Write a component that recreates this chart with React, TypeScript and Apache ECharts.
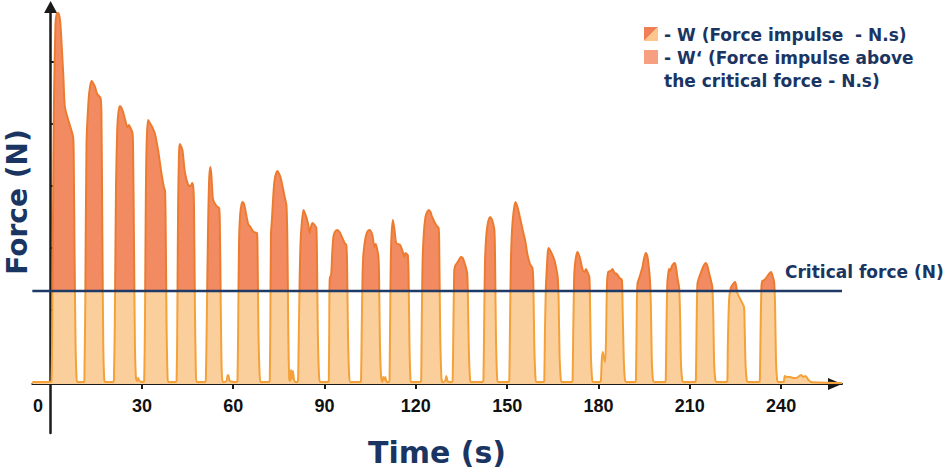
import React, { useEffect, useRef } from "react";
import * as echarts from "echarts";

// ---- data (time in s, force in arbitrary N units) ----
const timeLabels = [0, 30, 60, 90, 120, 150, 180, 210, 240];
const timeTickMarks = [30, 60, 90, 120, 150, 180, 210, 240];
const forceTickMarks = [12, 74, 136, 198, 260, 322];
const criticalForce = 93;
const timeRange = [-6, 260];
const forceRange = [-49, 377];

const forceCurve: [number, number][] = [
  [-6, 2], [0, 2],
  [0.3, 4], [0.5, 40], [0.8, 170], [1.1, 280], [1.6, 360], [2.0, 370], [2.5, 371], [3.1, 364], [3.6, 341], [4.2, 307], [4.7, 277], [6.1, 261], [7.4, 247], [7.6, 225], [7.9, 120], [8.2, 40], [8.5, 8], [8.8, 2],
  [11.0, 2], [11.1, 4], [11.4, 80], [11.8, 240], [12.5, 285], [13.0, 298], [13.5, 303], [14.6, 297], [15.3, 290], [16.4, 286], [16.7, 270], [17.0, 150], [17.3, 40], [17.6, 6], [17.9, 2],
  [20.6, 2], [20.8, 4], [21.1, 60], [21.5, 200], [21.9, 255], [22.3, 272], [22.8, 278], [23.3, 276], [23.9, 271], [24.6, 263], [25.2, 257], [25.7, 259], [26.1, 257], [26.9, 251], [27.1, 235], [27.4, 140], [27.7, 40], [28.0, 8], [28.3, 3], [28.8, 6], [29.2, 3],
  [30.5, 2], [30.75, 4], [31.0, 60], [31.3, 190], [31.6, 245], [32.05, 264], [32.6, 261], [33.2, 258], [34.2, 251], [35.3, 234], [36.4, 211], [37.2, 197], [37.6, 193], [37.8, 160], [38.1, 60], [38.4, 10], [38.7, 2],
  [41.2, 2], [41.4, 4], [41.6, 50], [41.9, 180], [42.2, 232], [42.45, 240], [43.3, 234], [44.1, 212], [45.2, 199], [46.0, 198], [46.5, 201], [46.9, 196], [47.1, 180], [47.4, 80], [47.7, 15], [48.0, 2],
  [50.8, 2], [51.0, 4], [51.3, 60], [51.7, 150], [52.1, 205], [52.5, 217], [52.8, 210], [53.05, 197], [53.4, 184], [54.5, 178], [55.35, 176], [55.6, 160], [55.9, 80], [56.2, 15], [56.6, 2], [57.8, 3], [58.2, 9], [58.5, 8], [58.9, 3],
  [61.2, 2], [61.4, 4], [61.6, 50], [61.9, 140], [62.3, 170], [63.0, 182], [63.4, 181], [63.8, 177], [64.9, 160], [65.65, 157], [66.7, 152], [67.8, 151], [68.0, 130], [68.3, 50], [68.7, 8], [69.1, 2],
  [71.8, 2], [72.0, 4], [72.2, 60], [72.4, 150], [72.75, 166], [73.1, 185], [73.6, 204], [74.5, 213], [75.5, 207], [76.9, 187], [77.5, 178], [77.8, 140], [78.1, 50], [78.4, 5], [78.7, 3], [79.0, 14], [79.3, 5], [79.6, 13], [80.0, 4], [80.4, 2],
  [81.1, 2], [81.3, 4], [81.5, 40], [81.8, 100], [82.1, 140], [82.5, 160], [83.1, 174], [84.0, 167], [84.6, 160], [85.1, 151], [85.6, 158], [86.0, 161], [86.75, 159], [87.3, 156], [87.5, 130], [87.8, 50], [88.2, 8], [88.6, 2],
  [91.2, 2], [91.4, 4], [91.55, 60], [91.7, 105], [92.2, 110], [92.5, 130], [92.9, 147], [93.4, 152], [94.05, 154], [94.95, 152], [95.7, 147], [96.6, 141], [97.15, 139], [97.4, 120], [97.7, 50], [98.1, 8], [98.5, 2],
  [101.8, 2], [102.0, 4], [102.2, 50], [102.5, 110], [102.8, 131], [103.5, 147], [104.2, 153], [104.8, 154], [105.7, 149], [106.4, 137], [106.8, 140], [107.2, 136], [107.7, 127], [107.9, 110], [108.2, 40], [108.6, 6], [109.0, 2], [109.3, 7], [109.7, 4], [110.0, 7], [110.4, 2],
  [111.15, 2], [111.35, 4], [111.5, 50], [111.75, 120], [112.0, 148], [112.45, 164], [113.0, 154], [113.55, 141], [114.85, 139], [115.6, 133], [116.3, 127], [116.6, 131], [117.0, 130], [117.35, 129], [117.6, 110], [117.9, 40], [118.2, 6], [118.5, 2],
  [121.55, 2], [121.75, 4], [121.9, 50], [122.2, 120], [122.6, 150], [123.15, 167], [123.7, 172], [124.25, 174], [124.8, 172], [125.35, 167], [126.65, 159], [127.5, 156], [127.7, 130], [128.0, 50], [128.4, 6], [128.8, 2], [129.6, 3], [130.0, 8], [130.4, 3], [131.0, 2],
  [131.9, 2], [132.1, 4], [132.3, 50], [132.6, 112], [132.9, 118], [133.75, 122], [134.5, 126], [134.9, 127], [135.4, 126], [136.0, 121], [136.5, 116], [136.85, 111], [137.05, 95], [137.4, 35], [137.8, 5], [138.2, 2],
  [142.0, 2], [142.2, 4], [142.4, 50], [142.7, 120], [143.1, 147], [143.6, 160], [144.0, 165], [144.4, 167], [144.9, 165], [145.25, 162], [145.8, 154], [146.0, 130], [146.3, 50], [146.7, 6], [147.1, 2],
  [150.5, 2], [150.7, 4], [150.9, 50], [151.2, 120], [151.6, 154], [152.1, 172], [152.7, 182], [153.2, 179], [153.8, 172], [155.1, 154], [156.0, 142], [156.7, 129], [157.5, 120], [158.3, 116], [158.6, 100], [158.9, 40], [159.3, 6], [159.7, 2],
  [162.0, 2], [162.2, 4], [162.4, 50], [162.7, 95], [163.0, 114], [163.3, 130], [163.6, 136], [164.4, 132], [165.5, 124], [166.1, 116], [166.6, 107], [166.9, 85], [167.2, 30], [167.6, 5], [168.0, 2],
  [171.3, 2], [171.5, 4], [171.7, 50], [172.05, 110], [172.5, 125], [173.1, 132], [173.9, 126], [174.8, 114], [175.4, 112], [175.9, 115], [176.5, 111], [177.0, 107], [177.2, 85], [177.5, 30], [177.9, 5], [178.3, 2],
  [180.6, 2], [180.8, 4], [181.1, 25], [181.4, 32], [181.8, 26], [182.2, 22], [182.5, 50], [182.8, 100], [183.2, 112], [184.0, 113], [184.6, 115], [185.3, 111], [186.0, 110], [186.9, 106], [187.7, 104], [187.9, 80], [188.3, 25], [188.7, 4], [189.1, 2],
  [192.1, 2], [192.3, 4], [192.5, 50], [192.8, 100], [193.6, 108], [194.45, 117], [195.0, 126], [195.55, 131], [196.1, 127], [196.6, 115], [196.9, 104], [197.2, 80], [197.5, 25], [197.9, 4], [198.3, 2],
  [201.9, 2], [202.1, 4], [202.3, 50], [202.6, 100], [202.9, 110], [203.2, 115], [203.6, 113], [204.0, 117], [204.6, 120], [205.1, 121], [205.6, 114], [205.95, 106], [206.5, 96], [206.8, 70], [207.1, 20], [207.5, 4], [207.9, 2],
  [211.8, 2], [212.0, 4], [212.2, 50], [212.5, 100], [213.0, 106], [213.6, 111], [214.5, 118], [215.25, 121], [215.7, 119], [216.1, 114], [216.9, 104], [217.4, 97], [217.7, 70], [218.0, 20], [218.4, 4], [218.8, 2],
  [222.15, 2], [222.35, 4], [222.5, 40], [222.9, 84], [223.45, 96], [224.2, 100], [224.9, 102], [225.3, 97], [225.6, 91], [226.4, 86], [227.05, 82], [227.8, 77], [228.0, 60], [228.3, 20], [228.7, 4], [229.1, 2],
  [232.8, 2], [233.0, 4], [233.2, 40], [233.5, 95], [233.8, 103], [234.5, 104], [235.3, 107], [236.0, 110], [236.7, 112], [237.2, 108], [237.7, 102], [238.0, 80], [238.3, 25], [238.7, 4], [239.1, 2],
  [240.8, 2], [241.2, 8], [242.0, 7], [243.0, 7], [244.0, 6], [245.0, 6], [246.5, 9], [247.3, 7], [248.0, 8], [249.0, 4], [249.8, 2], [260, 1],
];

const legendLines = [
  "- W (Force impulse  - N.s)",
  "- W\u2018 (Force impulse above",
  "the critical force - N.s)",
];
const criticalLabel = "Critical force (N)";
const xTitle = "Time (s)";
const yTitle = "Force (N)";

// ---- styles ----
const NAVY = "#1b3563";
const AXIS = "#1a1a1a";
const FILL_LOW = "#fbcf9c";
const FILL_HIGH = "#f28b62";
const LINE_LOW = "#f4a13a";
const LINE_HIGH = "#ec7b2f";
const FONT = '"DejaVu Sans", sans-serif';

export default function App() {
  const ref = useRef<HTMLDivElement>(null);

  useEffect(() => {
    document.body.style.margin = "0";
    if (!ref.current) return;
    const chart = echarts.init(ref.current, undefined, { renderer: "svg" });

    const labelFont = {
      fontSize: 18,
      fontWeight: "bold" as const,
      fontFamily: '"Liberation Sans", Arial, sans-serif',
      color: "#111",
    };

    chart.setOption({
      animation: false,
      grid: { left: 32.33, right: 103, top: 7, bottom: 40, containLabel: false },
      xAxis: {
        type: "value",
        min: timeRange[0],
        max: timeRange[1],
        axisLine: {
          show: true,
          onZero: true,
          lineStyle: { color: AXIS, width: 2 },
          symbol: ["none", "triangle"],
          symbolSize: [12, 14],
          symbolOffset: [0, -7],
        },
        axisTick: {
          show: true,
          customValues: timeTickMarks,
          length: 5,
          lineStyle: { color: AXIS, width: 2 },
        },
        axisLabel: {
          show: true,
          customValues: timeLabels,
          margin: -36,
          ...labelFont,
          formatter: (v: number) => (v === 0 ? "{zero|0}" : String(v)),
          rich: { zero: { ...labelFont, padding: [0, 25, 0, 0] } },
        },
        splitLine: { show: false },
      },
      yAxis: {
        type: "value",
        min: forceRange[0],
        max: forceRange[1],
        axisLine: {
          show: true,
          onZero: true,
          lineStyle: { color: AXIS, width: 2.5 },
          symbol: ["none", "triangle"],
          symbolSize: [13, 12],
        },
        axisTick: {
          show: true,
          inside: true,
          customValues: forceTickMarks,
          length: 4,
          lineStyle: { color: AXIS, width: 2 },
        },
        axisLabel: { show: false },
        splitLine: { show: false },
      },
      visualMap: [
        {
          type: "piecewise",
          show: false,
          seriesIndex: 0,
          dimension: 1,
          pieces: [
            { gte: -1000, lt: criticalForce, color: FILL_LOW },
            { gte: criticalForce, lte: 1000, color: FILL_HIGH },
          ],
        },
        {
          type: "piecewise",
          show: false,
          seriesIndex: 1,
          dimension: 1,
          pieces: [
            { gte: -1000, lt: criticalForce, color: LINE_LOW },
            { gte: criticalForce, lte: 1000, color: LINE_HIGH },
          ],
        },
      ],
      series: [
        {
          name: "W",
          type: "line",
          data: forceCurve,
          showSymbol: false,
          symbol: "none",
          smooth: 0.25,
          lineStyle: { width: 0 },
          areaStyle: { opacity: 1 },
          z: 2,
        },
        {
          name: "Force",
          type: "line",
          data: forceCurve,
          showSymbol: false,
          symbol: "none",
          smooth: 0.25,
          lineStyle: { width: 2 },
          z: 3,
        },
        {
          name: "Critical force",
          type: "line",
          data: [
            [timeRange[0], criticalForce],
            [timeRange[1], criticalForce],
          ],
          showSymbol: false,
          symbol: "none",
          lineStyle: { color: "#1f3a66", width: 2.5 },
          itemStyle: { color: "#1f3a66" },
          z: 4,
        },
      ],
      graphic: [
        {
          type: "text",
          x: 785,
          y: 272,
          style: {
            text: criticalLabel,
            font: `bold 17px ${FONT}`,
            fill: NAVY,
            verticalAlign: "middle",
          },
        },
        {
          type: "polygon",
          shape: { points: [[644, 27], [658, 27], [644, 41]] },
          style: { fill: "#f07f55" },
        },
        {
          type: "polygon",
          shape: { points: [[658, 27], [658, 41], [644, 41]] },
          style: { fill: "#fcc68c" },
        },
        {
          type: "rect",
          shape: { x: 644, y: 50, width: 14, height: 14 },
          style: { fill: "#f7a081" },
        },
        ...legendLines.map((t, i) => ({
          type: "text",
          x: 664,
          y: 35 + i * 23,
          style: {
            text: t,
            font: `bold 17px ${FONT}`,
            fill: NAVY,
            verticalAlign: "middle",
          },
        })),
        {
          type: "text",
          x: 17,
          y: 202,
          rotation: Math.PI / 2,
          style: {
            text: yTitle,
            font: `bold 28px ${FONT}`,
            fill: NAVY,
            align: "center",
            verticalAlign: "middle",
          },
        },
        {
          type: "text",
          x: 437,
          y: 452,
          style: {
            text: xTitle,
            font: `bold 30px ${FONT}`,
            fill: NAVY,
            align: "center",
            verticalAlign: "middle",
          },
        },
      ],
    });

    return () => chart.dispose();
  }, []);

  return <div ref={ref} style={{ width: 945, height: 473 }} />;
}
